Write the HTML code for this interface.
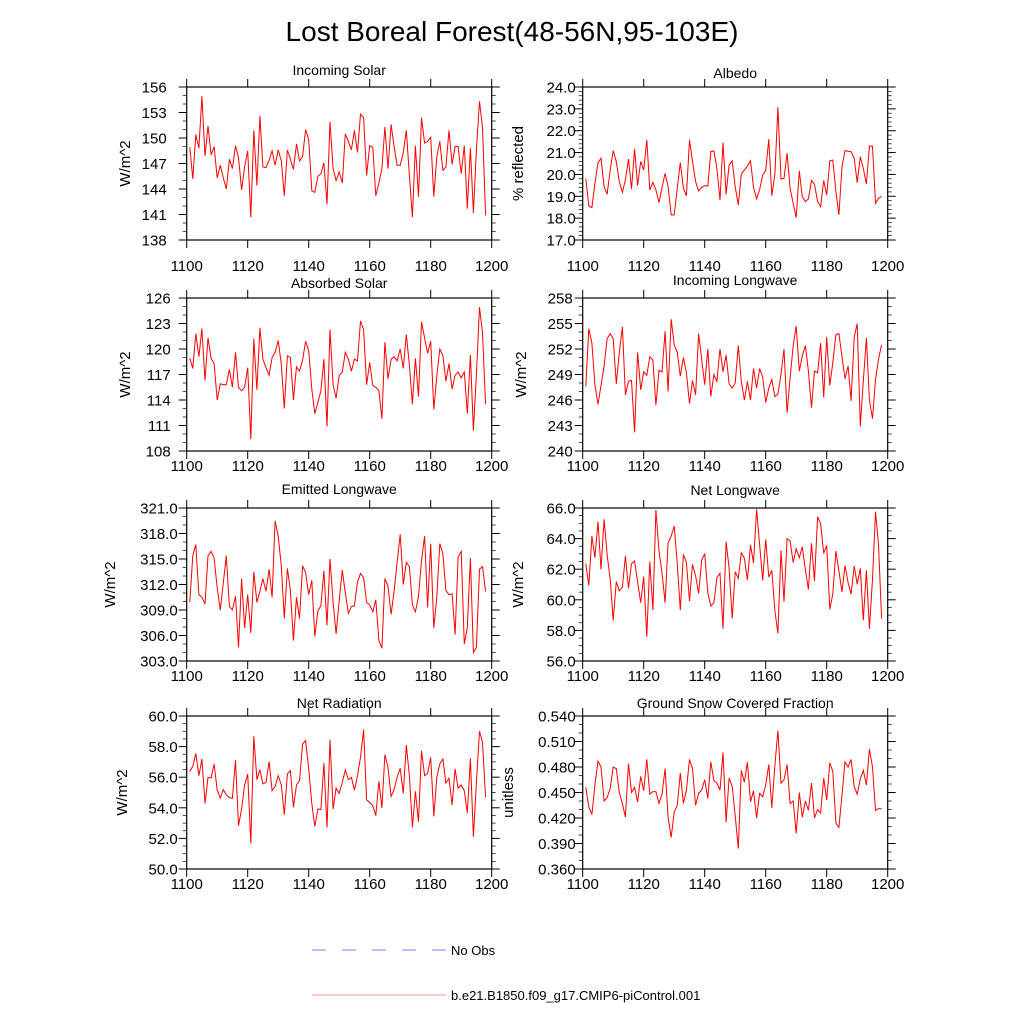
<!DOCTYPE html>
<html><head><meta charset="utf-8"><style>
body{margin:0;background:#fff;}
svg{display:block;font-family:"Liberation Sans",sans-serif;}
</style></head><body>
<svg id="chart" width="1024" height="1024" viewBox="0 0 1024 1024">
<rect width="1024" height="1024" fill="#fff"/>
<text x="512" y="41" text-anchor="middle" font-size="28">Lost Boreal Forest(48-56N,95-103E)</text>
<g>
<line x1="312" y1="950" x2="446" y2="950" stroke="#8080ff" stroke-width="1" stroke-dasharray="14,16"/>
<text x="451" y="955" font-size="13">No Obs</text>
<line x1="312" y1="995" x2="446" y2="995" stroke="#ff9090" stroke-width="1"/>
<text x="451" y="1000" font-size="13">b.e21.B1850.f09_g17.CMIP6-piControl.001</text>
</g>
</svg>
<script>
const startYear = 1101;
const xTicks = [1100,1120,1140,1160,1180,1200];
const incomingSolar = [148.9,145.2,150.4,148.8,154.9,147.9,151.4,148.0,149.0,145.3,146.8,145.3,144.0,147.5,146.4,149.1,147.7,143.9,146.6,148.5,140.7,150.9,144.4,152.6,146.6,146.5,147.4,148.5,146.8,148.6,147.3,143.2,148.6,147.5,146.3,149.3,147.3,147.8,151.0,149.8,143.8,143.6,145.5,145.8,147.1,142.2,151.9,146.4,145.0,146.0,144.7,150.5,149.6,148.6,150.9,148.3,152.8,152.4,145.6,149.1,148.9,143.2,144.7,146.4,151.3,146.4,151.6,149.0,146.8,146.8,148.3,150.9,145.6,140.7,149.1,143.1,152.4,149.4,149.6,150.1,143.1,147.8,149.6,146.2,146.6,150.9,146.9,149.0,149.0,145.8,149.1,141.7,148.8,141.2,148.6,154.3,151.2,140.9];
const albedo = [19.82,18.56,18.48,19.59,20.54,20.74,19.44,19.09,20.2,21.09,20.59,19.67,19.18,19.75,20.71,19.34,21.16,19.49,20.59,20.2,21.58,19.29,19.64,19.29,18.71,19.4,20.05,19.44,18.15,18.15,19.37,20.54,19.37,19.02,21.58,20.59,19.67,19.24,19.41,19.49,19.47,21.04,21.07,20.28,18.83,21.45,19.09,20.43,20.62,19.44,18.6,20.02,20.2,20.39,20.63,19.41,18.88,19.29,19.98,20.17,21.61,19.02,20.02,23.07,19.79,19.82,20.97,19.37,18.68,18.02,20.16,18.98,18.76,18.89,19.72,19.55,18.76,18.53,19.72,19.06,20.62,20.66,19.21,18.15,20.36,21.09,21.06,21.04,20.74,19.62,20.81,20.28,19.56,21.3,21.29,18.68,18.91,19.0];
const absorbedSolar = [118.9,117.7,121.8,119.1,122.4,116.3,121.3,118.9,118.3,114.0,115.9,115.8,115.8,117.6,115.5,119.6,115.5,115.1,115.5,117.8,109.4,121.2,115.2,122.5,118.8,117.8,116.9,119.0,119.6,121.0,118.2,113.0,119.2,119.0,114.0,117.9,117.4,118.7,120.9,119.8,115.3,112.4,113.7,115.1,118.8,110.9,122.3,115.8,114.2,116.9,117.3,119.6,118.8,117.4,118.8,118.6,123.3,122.3,115.8,118.4,115.7,115.5,115.1,111.8,120.8,116.5,118.8,119.1,118.6,120.0,117.7,121.7,118.1,113.5,118.9,114.4,123.2,121.3,119.5,120.9,112.9,116.8,120.0,119.2,116.2,118.3,115.3,116.9,117.3,116.6,117.3,112.4,119.3,110.4,117.0,124.9,121.9,113.5];
const incomingLongwave = [247.6,254.4,252.7,247.8,245.5,247.7,250.0,253.2,253.8,253.2,247.9,251.6,254.6,246.6,248.2,248.3,242.2,251.6,247.2,249.3,248.9,251.1,250.7,245.4,249.5,249.3,254.1,247.0,255.5,252.5,251.6,248.8,251.0,249.2,245.6,248.3,246.6,253.8,250.8,247.8,252.0,246.4,249.0,248.2,252.0,249.3,251.3,247.9,247.4,248.0,252.4,248.2,246.0,248.2,246.0,249.7,247.4,249.7,248.7,245.7,247.4,248.4,246.4,246.7,249.0,252.0,244.5,248.6,252.4,254.7,249.4,251.2,252.4,249.4,245.1,249.4,249.2,252.7,246.3,253.4,247.7,250.4,253.7,253.8,251.1,248.5,250.0,245.9,253.4,255.0,242.9,248.2,253.3,246.0,243.8,248.4,250.8,252.5];
const emittedLongwave = [309.9,315.4,316.7,310.8,310.5,309.7,315.4,315.9,315.1,311.6,309.0,312.2,315.4,309.4,309.0,310.6,304.6,312.7,306.9,310.8,306.3,313.5,309.9,311.2,312.7,311.2,313.8,310.5,319.5,317.7,314.2,308.0,313.9,311.3,305.4,310.5,308.0,314.2,313.4,310.8,312.5,305.9,308.9,309.5,313.6,307.2,315.0,309.9,306.2,310.1,313.7,311.0,308.6,309.4,309.5,312.3,313.3,312.8,309.9,309.6,308.8,310.2,305.4,304.5,312.7,311.8,308.5,311.2,314.6,317.9,312.0,314.6,314.1,309.6,308.8,310.6,314.8,317.7,309.3,316.8,306.9,310.5,316.8,315.6,311.3,310.8,310.9,306.1,315.2,315.9,305.0,306.9,315.1,304.0,304.6,313.8,314.1,311.2];
const netLongwave = [62.36,60.95,64.17,62.75,65.11,61.99,65.26,62.97,61.34,58.66,61.19,60.58,60.84,62.86,60.75,62.36,62.54,61.16,59.81,61.51,57.59,62.49,59.33,65.87,63.19,61.77,59.81,63.73,64.17,64.82,62.32,59.33,62.97,62.43,59.92,62.32,61.56,60.42,62.58,63.02,60.47,59.59,59.81,61.45,61.73,58.11,63.8,62.06,58.79,61.84,61.4,63.08,62.71,61.29,63.58,62.41,65.91,63.63,61.27,63.95,61.49,61.93,59.27,57.81,63.23,59.88,64.0,63.84,62.43,63.34,62.75,63.47,61.95,60.68,63.69,61.23,65.43,65.0,63.04,63.56,59.38,60.36,63.19,61.88,60.51,62.25,61.12,60.36,62.21,61.01,62.06,58.66,61.93,58.11,61.34,65.76,63.63,58.77];
const netRadiation = [56.38,56.71,57.56,56.1,57.19,54.29,55.99,55.95,56.86,55.16,54.64,55.19,54.84,54.68,54.62,57.12,52.83,53.92,55.49,56.21,51.68,58.67,55.84,56.49,55.56,55.66,57.02,55.12,55.38,56.1,55.49,53.55,56.21,56.43,54.03,55.49,55.77,58.17,58.39,56.54,54.29,52.77,53.92,53.88,56.93,52.72,58.45,53.92,55.29,54.95,55.66,56.47,55.84,55.99,55.16,56.1,57.3,59.11,54.51,54.36,54.14,53.49,55.73,53.99,57.47,56.64,54.75,55.19,55.99,56.58,54.95,58.1,56.1,52.72,55.08,53.09,57.73,56.1,56.25,57.3,53.44,55.99,56.86,57.19,55.62,55.93,54.18,56.54,55.29,55.49,55.12,53.66,57.23,52.11,55.66,59.0,58.28,54.68];
const snowFraction = [0.456,0.433,0.424,0.459,0.487,0.480,0.440,0.444,0.455,0.480,0.478,0.450,0.437,0.421,0.484,0.450,0.456,0.439,0.469,0.452,0.489,0.448,0.451,0.451,0.437,0.448,0.478,0.421,0.397,0.427,0.435,0.473,0.437,0.453,0.489,0.478,0.435,0.449,0.453,0.465,0.443,0.486,0.464,0.461,0.453,0.497,0.415,0.467,0.457,0.423,0.384,0.476,0.462,0.486,0.439,0.452,0.420,0.449,0.445,0.459,0.483,0.432,0.482,0.523,0.461,0.465,0.483,0.437,0.440,0.402,0.450,0.421,0.440,0.429,0.461,0.420,0.430,0.426,0.467,0.441,0.485,0.475,0.414,0.409,0.447,0.486,0.480,0.489,0.457,0.448,0.466,0.476,0.459,0.501,0.480,0.429,0.431,0.431];

const incomingSolarTicks = ["156","153","150","147","144","141","138"];
const albedoTicks = ["24.0","23.0","22.0","21.0","20.0","19.0","18.0","17.0"];
const absorbedSolarTicks = ["126","123","120","117","114","111","108"];
const incomingLongwaveTicks = ["258","255","252","249","246","243","240"];
const emittedLongwaveTicks = ["321.0","318.0","315.0","312.0","309.0","306.0","303.0"];
const netLongwaveTicks = ["66.0","64.0","62.0","60.0","58.0","56.0"];
const netRadiationTicks = ["60.0","58.0","56.0","54.0","52.0","50.0"];
const snowFractionTicks = ["0.540","0.510","0.480","0.450","0.420","0.390","0.360"];

const NS='http://www.w3.org/2000/svg';
const svg=document.getElementById('chart');
function mk(tag,attrs,parent){const e=document.createElementNS(NS,tag);for(const k in attrs)e.setAttribute(k,attrs[k]);parent.appendChild(e);return e;}

const panels=[
 {key:'incoming-solar',title:'Incoming Solar',ytitle:'W/m^2',data:incomingSolar,ticks:incomingSolarTicks,minor:3,left:186.7,top:87,ty:75,gap:20,ytx:130,xoff:31},
 {key:'albedo',title:'Albedo',ytitle:'% reflected',data:albedo,ticks:albedoTicks,minor:5,left:582.7,top:87,ty:78,gap:7,ytx:523,xoff:31},
 {key:'absorbed-solar',title:'Absorbed Solar',ytitle:'W/m^2',data:absorbedSolar,ticks:absorbedSolarTicks,minor:3,left:186.7,top:298,ty:288,gap:16,ytx:130,xoff:20},
 {key:'incoming-longwave',title:'Incoming Longwave',ytitle:'W/m^2',data:incomingLongwave,ticks:incomingLongwaveTicks,minor:3,left:582.7,top:298,ty:285,gap:10,ytx:526,xoff:20},
 {key:'emitted-longwave',title:'Emitted Longwave',ytitle:'W/m^2',data:emittedLongwave,ticks:emittedLongwaveTicks,minor:3,left:186.7,top:508,ty:494,gap:9,ytx:115,xoff:20},
 {key:'net-longwave',title:'Net Longwave',ytitle:'W/m^2',data:netLongwave,ticks:netLongwaveTicks,minor:4,left:582.7,top:508,ty:495,gap:7,ytx:523,xoff:20},
 {key:'net-radiation',title:'Net Radiation',ytitle:'W/m^2',data:netRadiation,ticks:netRadiationTicks,minor:4,left:186.7,top:716,ty:708,gap:9,ytx:127,xoff:20},
 {key:'snow-fraction',title:'Ground Snow Covered Fraction',ytitle:'unitless',data:snowFraction,ticks:snowFractionTicks,minor:3,left:582.7,top:716,ty:708,gap:7,ytx:513,xoff:20}
];
const W=305,H=153;
panels.forEach(p=>{
 const g=mk('g',{},svg);
 
 
 const yMax=parseFloat(p.ticks[0]),yMin=parseFloat(p.ticks[p.ticks.length-1]);
 const xs=v=>p.left+(v-1100)/100*W;
 const ys=v=>p.top+(yMax-v)/(yMax-yMin)*H;
 const t=mk('text',{x:p.left+W/2,y:p.ty,'text-anchor':'middle','font-size':14},g);t.textContent=p.title;
 
 
 const n=p.ticks.length-1;
 for(let i=0;i<=n;i++){
  const v=yMax-(yMax-yMin)*i/n, y=ys(v);
  mk('line',{x1:p.left-8,x2:p.left,y1:y,y2:y,stroke:'#000','stroke-width':1},g);
  mk('line',{x1:p.left+W,x2:p.left+W+8,y1:y,y2:y,stroke:'#000','stroke-width':1},g);
  const lb=mk('text',{x:p.left-p.gap,y:y+5.5,'text-anchor':'end','font-size':15},g);lb.textContent=p.ticks[i];
  
  
  if(i<n){for(let m=1;m<p.minor;m++){const ym=y+(H/n)*m/p.minor;
   mk('line',{x1:p.left-4,x2:p.left,y1:ym,y2:ym,stroke:'#000','stroke-width':0.7},g);
   mk('line',{x1:p.left+W,x2:p.left+W+4,y1:ym,y2:ym,stroke:'#000','stroke-width':0.7},g);}}
 }
 xTicks.forEach(v=>{const x=xs(v);
  mk('line',{x1:x,x2:x,y1:p.top+H,y2:p.top+H+8,stroke:'#000','stroke-width':1},g);
  mk('line',{x1:x,x2:x,y1:p.top-8,y2:p.top,stroke:'#000','stroke-width':1},g);
  const lb=mk('text',{x:x,y:p.top+H+p.xoff,'text-anchor':'middle','font-size':15},g);lb.textContent=v;
  
  
 });
 const yt=mk('text',{x:0,y:0,'text-anchor':'middle','font-size':15,transform:`translate(${p.ytx},${p.top+H/2}) rotate(-90)`},g);
 yt.textContent=p.ytitle;
 
 
 const pts=p.data.map((v,i)=>xs(startYear+i).toFixed(1)+','+ys(v).toFixed(1)).join(' ');
 const pl=mk('polyline',{points:pts,fill:'none',stroke:'#ff0000','stroke-width':1},g);
 
 
 const fr=mk('rect',{x:p.left,y:p.top,width:W,height:H,fill:'none',stroke:'#000','stroke-width':1.2},g);
 
 
});
</script>
</body></html>
